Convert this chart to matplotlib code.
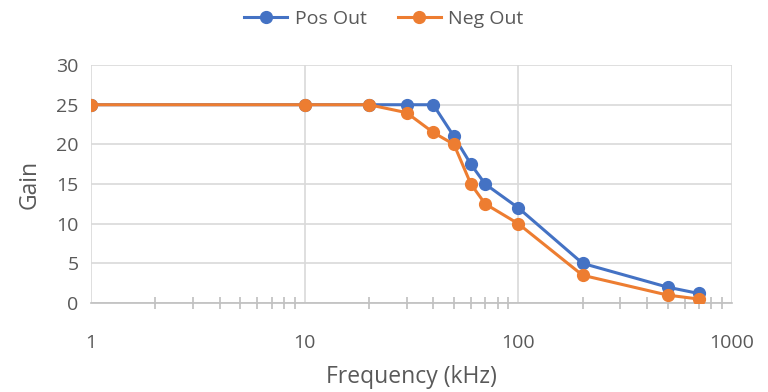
import numpy as np
import matplotlib.pyplot as plt
from matplotlib.ticker import FixedLocator, FixedFormatter, LogLocator, NullFormatter

freq = [1, 10, 20, 30, 40, 50, 60, 70, 100, 200, 500, 700]
pos_out = [25, 25, 25, 25, 25, 21, 17.5, 15, 12, 5, 2, 1.2]
neg_out = [25, 25, 25, 24, 21.5, 20, 15, 12.5, 10, 3.5, 1, 0.5]
x_ticks = [1, 10, 100, 1000]
x_labels = ['1', '10', '100', '1000']
y_ticks = [0, 5, 10, 15, 20, 25, 30]

plt.rcParams['font.family'] = ['Open Sans', 'DejaVu Sans']
txt = '#595959'
gridc = '#D9D9D9'

fig = plt.figure(figsize=(7.68, 3.92), dpi=100)
ax = fig.add_axes([0.1185, 0.227, 0.8345, 0.607])

ax.plot(freq, pos_out, color='#4472C4', lw=2.2, marker='o', ms=8.5, label='Pos Out', zorder=3)
ax.plot(freq, neg_out, color='#ED7D31', lw=2.2, marker='o', ms=8.5, label='Neg Out', zorder=4)

ax.set_xscale('log')
ax.set_xlim(1, 1000)
ax.set_ylim(0, 30)
ax.xaxis.set_major_locator(FixedLocator(x_ticks))
ax.xaxis.set_major_formatter(FixedFormatter(x_labels))
ax.xaxis.set_minor_locator(LogLocator(base=10, subs=np.arange(2, 10)))
ax.xaxis.set_minor_formatter(NullFormatter())
ax.set_yticks(y_ticks)

ax.grid(True, which='major', color=gridc, lw=1.2)
ax.set_axisbelow(True)
for s in ['top', 'right', 'left']:
    ax.spines[s].set_visible(False)
ax.spines['bottom'].set_color('#BFBFBF')
ax.spines['bottom'].set_linewidth(1.2)

ax.tick_params(axis='x', which='both', direction='inout', color='#BFBFBF', width=1.2, labelsize=14, labelcolor=txt, pad=22)
ax.tick_params(axis='x', which='major', length=0)
ax.tick_params(axis='x', which='minor', length=9)
ax.tick_params(axis='y', length=0, labelsize=14, labelcolor=txt, pad=9)

ax.set_xlabel('Frequency (kHz)', fontsize=16.5, color=txt, labelpad=10)
ax.set_ylabel('Gain', fontsize=16.5, color=txt, labelpad=10)

leg = fig.legend(loc='upper center', bbox_to_anchor=(0.5, 1.02), ncol=2, frameon=False,
                 fontsize=14, handlelength=2.2, columnspacing=1.6, handletextpad=0.4)
for t in leg.get_texts():
    t.set_color(txt)

fig.savefig('out.png', dpi=100)
